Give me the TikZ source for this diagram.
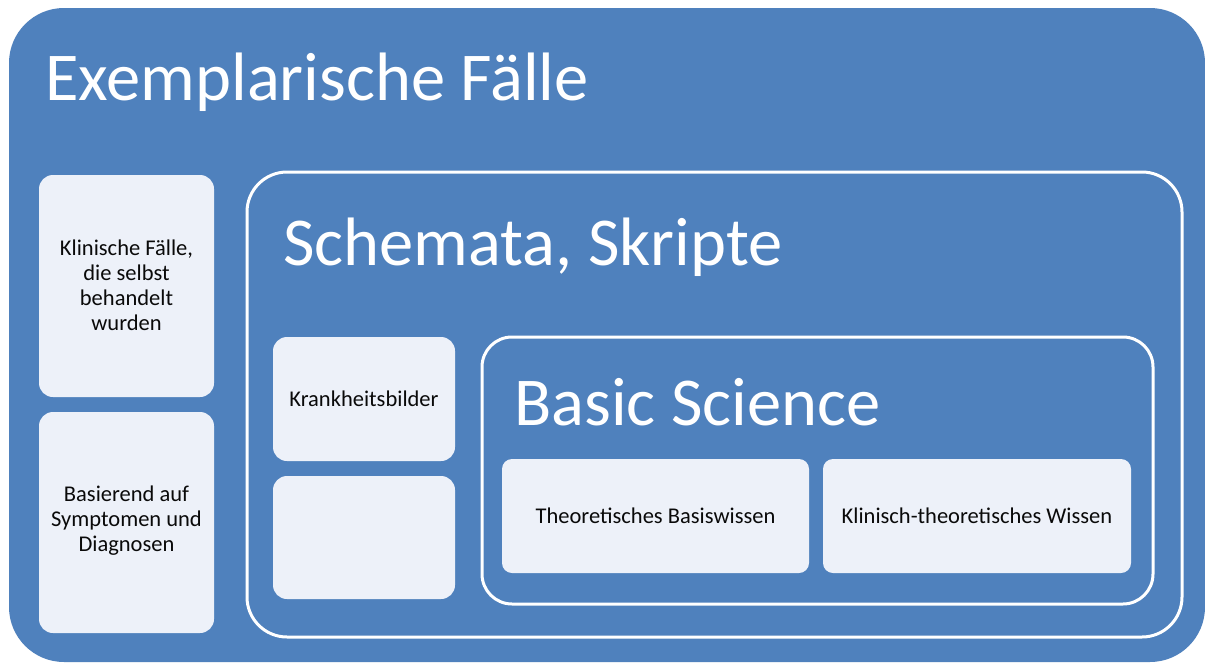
\documentclass[tikz,border=0pt]{standalone}
\usepackage{fontspec}
\setmainfont{Carlito}
\definecolor{obox}{HTML}{4F81BD}
\definecolor{lbox}{HTML}{EDF1F9}
\definecolor{ink}{HTML}{0A0A0A}
\begin{document}
\begin{tikzpicture}[x=1pt,y=-1pt,
  outerbox/.style={fill=obox,draw=none,rounded corners=55pt,inner sep=0pt,outer sep=0pt},
  framebox/.style={draw=white,line width=3pt,fill=none,inner sep=0pt,outer sep=0pt},
  lightbox/.style={fill=lbox,draw=none,rounded corners=14pt,inner sep=0pt,outer sep=0pt},
  smalltxt/.style={text=ink,font=\fontsize{22.5}{25}\selectfont,align=center},
  titletxt/.style={text=white,anchor=base west,inner sep=0pt,font=\fontsize{68.5}{72}\selectfont}]
\useasboundingbox[fill=white] (0,0) rectangle (1205,664);
% outer box
\node[outerbox,minimum width=1196pt,minimum height=654pt] (outer) at (607,335) {};
\node[titletxt] (t1) at (45,100) {Exemplarische Fälle};
% left boxes
\node[lightbox,minimum width=175pt,minimum height=222pt] (k1) at (126.5,286) {};
\node[smalltxt] (k1t) at (126.5,285) {Klinische Fälle,\\die selbst\\behandelt\\wurden};
\node[lightbox,minimum width=175pt,minimum height=221pt] (k2) at (126.5,522.5) {};
\node[smalltxt] (k2t) at (126.5,521) {Basierend auf\\Symptomen und\\Diagnosen};
% Schemata frame
\node[framebox,rounded corners=40pt,minimum width=935pt,minimum height=465pt] (schema) at (714.5,404.5) {};
\node[titletxt] (t2) at (283,265) {Schemata, Skripte};
\node[lightbox,minimum width=182pt,minimum height=124pt] (kb) at (364,399) {};
\node[smalltxt] (kbt) at (kb.center) {Krankheitsbilder};
\node[lightbox,minimum width=182pt,minimum height=123pt] (eb) at (364,537.5) {};
% Basic Science frame
\node[framebox,rounded corners=30pt,minimum width=671pt,minimum height=267pt] (basic) at (817.5,470.5) {};
\node[titletxt] (t3) at (514,425) {Basic Science};
\node[lightbox,rounded corners=10pt,minimum width=307pt,minimum height=114pt] (tb) at (655.5,516) {};
\node[smalltxt] (tbt) at (tb.center) {Theoretisches Basiswissen};
\node[lightbox,rounded corners=10pt,minimum width=308pt,minimum height=114pt] (kt) at (977,516) {};
\node[smalltxt] (ktt) at (kt.center) {Klinisch-theoretisches Wissen};
\end{tikzpicture}
\end{document}
